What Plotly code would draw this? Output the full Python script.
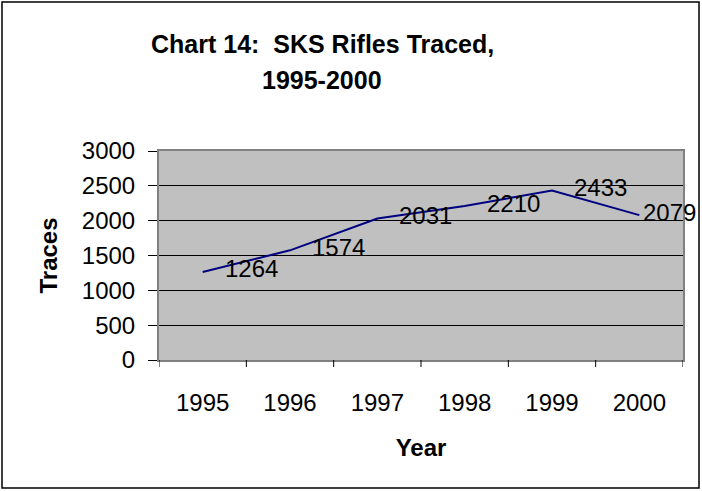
import plotly.graph_objects as go

years = ["1995", "1996", "1997", "1998", "1999", "2000"]
traces = [1264, 1574, 2031, 2210, 2433, 2079]
label_shift = [20, 20, 20, 20, 20, 2]
title_lines = ["Chart 14:\u00a0 SKS Rifles Traced,", "1995-2000"]

W, H = 702, 491
L, R, T, B = 159, 19, 151, 131
pw, ph = W - L - R, H - T - B

FAM = "Liberation Sans, Arial"
font = dict(family=FAM, size=24, color="black")

fig = go.Figure()
fig.add_trace(go.Scatter(x=list(range(len(years))), y=traces, mode="lines",
                         line=dict(color="#000080", width=2), showlegend=False,
                         hoverinfo="skip"))

for i, (v, s) in enumerate(zip(traces, label_shift)):
    fig.add_annotation(x=i, y=v, xref="x", yref="y", text=str(v), showarrow=False,
                       xanchor="left", yanchor="middle", xshift=s, yshift=3,
                       font=font)

# title lines
for txt, yc in zip(title_lines, [44, 80]):
    fig.add_annotation(x=(322 - L) / pw, y=1 + (T - yc) / ph, xref="paper", yref="paper",
                       text="<b>" + txt + "</b>", showarrow=False,
                       xanchor="center", yanchor="middle",
                       font=dict(family=FAM, size=25, color="black"))

fig.update_layout(
    width=W, height=H,
    margin=dict(l=L, r=R, t=T, b=B),
    paper_bgcolor="white", plot_bgcolor="#C0C0C0",
    font=font,
    xaxis=dict(range=[-0.5, 5.5], tickmode="array",
               tickvals=list(range(len(years))), ticktext=years,
               ticks="", showgrid=False,
               showline=True, linecolor="#808080", linewidth=2, mirror=True,
               tickfont=font, ticklabelstandoff=20, zeroline=False,
               title=dict(text="<b>Year</b>", font=font, standoff=24)),
    yaxis=dict(range=[0, 3000], tickvals=[0, 500, 1000, 1500, 2000, 2500, 3000],
               ticks="outside", ticklen=9, tickcolor="black",
               showgrid=True, gridcolor="black", gridwidth=1,
               showline=True, linecolor="#808080", linewidth=2, mirror=True,
               tickfont=font, zeroline=False, ticklabelstandoff=8,
               title=dict(text="<b>Traces</b>", font=font, standoff=17)),
)

# boundary tick marks on the category axis (between categories)
for k in range(len(years) + 1):
    fig.add_shape(type="line", xref="x", yref="paper", x0=k - 0.5, x1=k - 0.5,
                  y0=0, y1=-7 / ph, line=dict(color="black", width=1))

# outer chart border
fig.add_shape(type="rect", xref="paper", yref="paper",
              x0=(2 - L) / pw, x1=(W - 3 - L) / pw,
              y0=-(H - 3 - T - ph) / ph, y1=1 + (T - 2) / ph,
              line=dict(color="black", width=1.5), fillcolor="rgba(0,0,0,0)", layer="above")

fig.write_html("out.html", config={"displayModeBar": False},
               post_script="document.body.style.margin='0';")
